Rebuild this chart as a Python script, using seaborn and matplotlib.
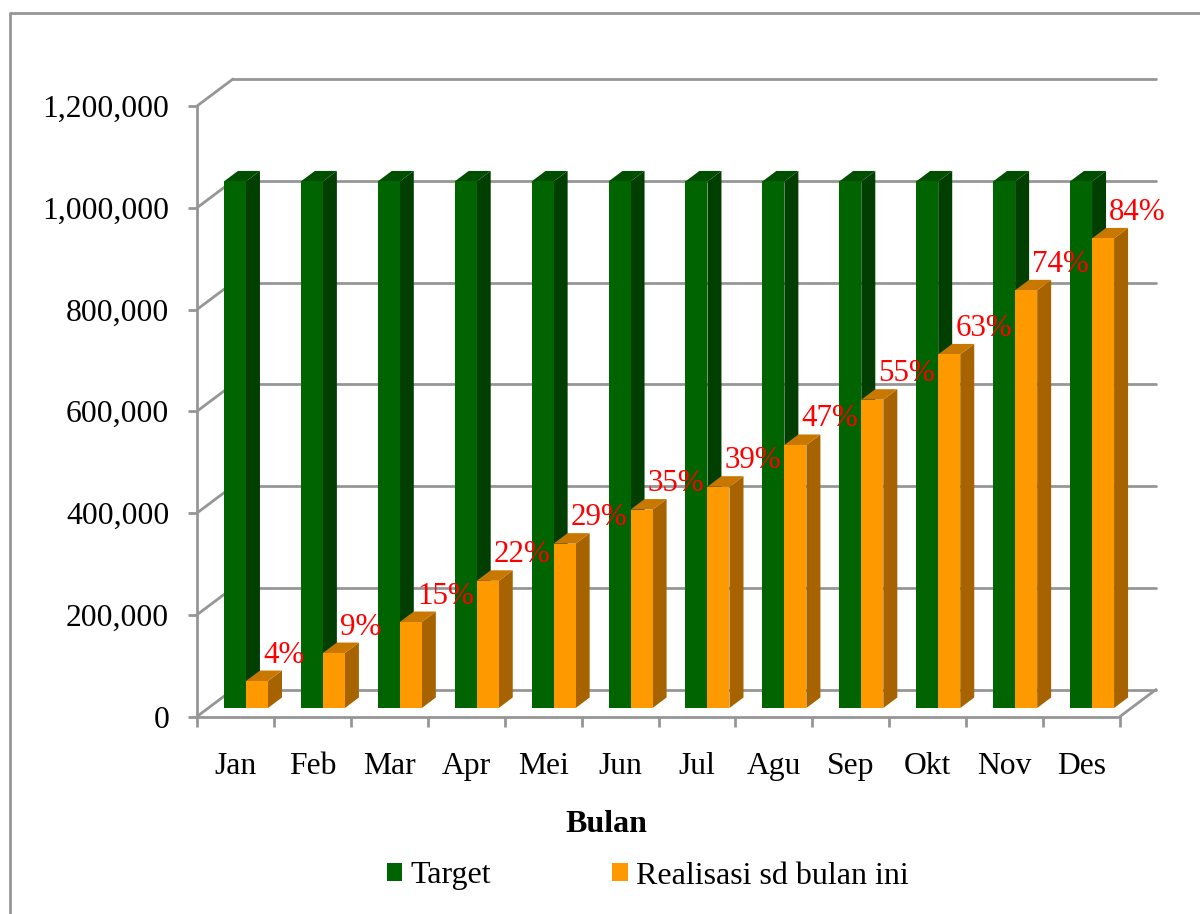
import seaborn as sns
import matplotlib.pyplot as plt
import pandas as pd
import numpy as np
from matplotlib.lines import Line2D
from matplotlib.patches import Patch, Polygon
from matplotlib.ticker import FuncFormatter
from matplotlib.transforms import ScaledTranslation

bulan = ['Jan', 'Feb', 'Mar', 'Apr', 'Mei', 'Jun', 'Jul', 'Agu', 'Sep', 'Okt', 'Nov', 'Des']
target = [1035000] * 12
realisasi = [53000, 108000, 169000, 250000, 323000, 390000, 435000, 517000, 606000, 695000, 821000, 923000]
persen = ['4%', '9%', '15%', '22%', '29%', '35%', '39%', '47%', '55%', '63%', '74%', '84%']
ticks_y = [0, 200000, 400000, 600000, 800000, 1000000, 1200000]

GRIS = '#969696'
warna = {'Target': '#006400', 'Realisasi sd bulan ini': '#FF9900'}
warna_sisi = {'Target': '#003F00', 'Realisasi sd bulan ini': '#A66300'}
warna_atas = {'Target': '#004F00', 'Realisasi sd bulan ini': '#C87800'}

sns.set_theme(style='white')
plt.rcParams['font.family'] = ['Liberation Serif', 'DejaVu Serif']

W, H = 1200, 914
fig = plt.figure(figsize=(W / 100, H / 100), dpi=100)
# sumbu = bidang depan grafik 3D
ax = fig.add_axes([197 / W, 1 - 716.5 / H, 923 / W, 610.5 / H])
ax.patch.set_alpha(0)


def geser(dx, dy):
    # geser dalam piksel, untuk efek kedalaman
    return ax.transData + ScaledTranslation(dx / 100, dy / 100, fig.dpi_scale_trans)


df = pd.DataFrame({'Bulan': bulan, 'Target': target, 'Realisasi sd bulan ini': realisasi})
df = df.melt(id_vars='Bulan', var_name='Seri', value_name='Nilai')
sns.barplot(data=df, x='Bulan', y='Nilai', hue='Seri', palette=warna, width=0.573,
            saturation=1, legend=False, ax=ax, zorder=3, linewidth=0, edgecolor='none')

ax.set_xlim(-0.5, 11.5)
ax.set_ylim(0, 1200000)

# dinding belakang dan garis diagonal
tr_belakang = geser(36, 27)
for v in ticks_y:
    ax.plot([-0.5, 11.5], [v, v], color=GRIS, lw=2, transform=tr_belakang, clip_on=False, zorder=1)
    p0 = ax.transData.transform((-0.5, v))
    ax.add_line(Line2D([p0[0], p0[0] + 36], [p0[1], p0[1] + 27], color=GRIS, lw=2,
                       transform=None, clip_on=False, zorder=1))
p1 = ax.transData.transform((11.5, 0))
ax.add_line(Line2D([p1[0], p1[0] + 36], [p1[1], p1[1] + 27], color=GRIS, lw=2,
                   transform=None, clip_on=False, zorder=1))

# sisi dan atap batang
DX, DY = 10.5, 8.5
DALAM_X, DALAM_Y = 14, 10.5
tr_batang = geser(DX, DY)
seri = list(warna)
for container, nama in zip(ax.containers, seri):
    naik = 3 if nama == 'Target' else 4
    for bar in container:
        x0, x1 = bar.get_x(), bar.get_x() + bar.get_width()
        h = bar.get_height()
        bar.set_transform(tr_batang)
        bar.set_zorder(naik + 0.5)
        bar.set_clip_on(False)
        a = ax.transData.transform((x0, 0)) + (DX, DY)
        b = ax.transData.transform((x1, h)) + (DX, DY)
        sisi = [(b[0], a[1]), (b[0] + DALAM_X, a[1] + DALAM_Y), (b[0] + DALAM_X, b[1] + DALAM_Y), (b[0], b[1])]
        atap = [(a[0], b[1]), (a[0] + DALAM_X, b[1] + DALAM_Y), (b[0] + DALAM_X, b[1] + DALAM_Y), (b[0], b[1])]
        ax.add_patch(Polygon(sisi, closed=True, fc=warna_sisi[nama], ec='none', transform=None, zorder=naik,
                             clip_on=False))
        ax.add_patch(Polygon(atap, closed=True, fc=warna_atas[nama], ec='none', transform=None, zorder=naik,
                             clip_on=False))

# label persen
for bar, teks in zip(ax.containers[1], persen):
    ax.annotate(teks, (bar.get_x(), bar.get_height()), xycoords=tr_batang,
                xytext=(17 * 0.72, 26 * 0.72), textcoords='offset points',
                ha='left', va='center', color='#FF0000', fontsize=22.3, zorder=6)

# sumbu
sns.despine(ax=ax, top=True, right=True)
for s in ['left', 'bottom']:
    ax.spines[s].set_color(GRIS)
    ax.spines[s].set_linewidth(2)
    ax.spines[s].set_zorder(2)
ax.set_yticks(ticks_y)
ax.yaxis.set_major_formatter(FuncFormatter(lambda v, _: f'{v:,.0f}'))
ax.tick_params(axis='y', left=True, length=6.5, width=2, color=GRIS, pad=13.5, labelsize=22.8, labelcolor='black')
ax.set_xticks(np.arange(12))
ax.set_xticklabels(bulan)
ax.set_xticks(np.arange(-0.5, 12), minor=True)
ax.tick_params(axis='x', which='major', bottom=False, length=7, pad=18.5, labelsize=22.8, labelcolor='black')
ax.tick_params(axis='x', which='minor', bottom=True, length=7, width=2, color=GRIS)
ax.set_ylabel('')
ax.set_xlabel('Bulan', fontsize=23, fontweight='bold', color='black', va='center')
ax.xaxis.set_label_coords((606 - 197) / 923, -(824 - 716.5) / 610.5)

# legenda
handles = [Patch(fc=warna[k], ec='none', label=k) for k in seri]
fig.legend(handles=handles, loc='center left', bbox_to_anchor=(386.5 / W, 1 - 876 / H), ncol=2, frameon=False,
           fontsize=23, labelcolor='black', borderpad=0, borderaxespad=0, handlelength=0.5, handleheight=0.5,
           handletextpad=0.25, columnspacing=3.8)

# bingkai area grafik
fig.add_artist(Line2D([10 / W, 10 / W, 1], [0, 1 - 13 / H, 1 - 13 / H], color=GRIS, lw=2, transform=fig.transFigure))

fig.savefig('out.png', dpi=100)
